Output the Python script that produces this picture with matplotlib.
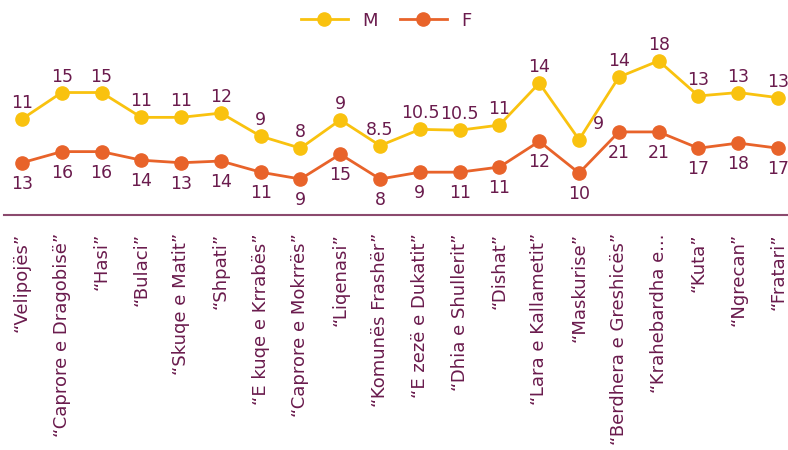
import matplotlib.pyplot as plt
import numpy as np

plt.rcParams['font.family'] = ['DejaVu Sans']

names = ['“Velipojës”', '“Caprore e Dragobisë”', '“Hasi”', '“Bulaci”', '“Skuqe e Matit”',
         '“Shpati”', '“E kuqe e Krrabës”', '“Caprore e Mokrrës”', '“Liqenasi”',
         '“Komunës Frashër”', '“E zezë e Dukatit”', '“Dhia e Shullerit”', '“Dishat”',
         '“Lara e Kallametit”', '“Maskurise”', '“Berdhera e Greshicës”', '“Krahebardha e...',
         '“Kuta”', '“Ngrecan”', '“Fratari”']

# labels printed on the chart
m_labels = ['11', '15', '15', '11', '11', '12', '9', '8', '9', '8.5',
            '10.5', '10.5', '11', '14', '9', '14', '18', '13', '13', '13']
f_labels = ['13', '16', '16', '14', '13', '14', '11', '9', '15', '8',
            '9', '11', '11', '12', '10', '21', '21', '17', '18', '17']

# plotted heights
m_vals = [11.2, 14.3, 14.3, 11.4, 11.4, 11.9, 9.2, 7.8, 11.1, 8.1,
          10.0, 9.9, 10.5, 15.4, 8.8, 16.1, 18.0, 13.9, 14.3, 13.7]
f_vals = [6.1, 7.4, 7.4, 6.4, 6.1, 6.3, 5.0, 4.2, 7.1, 4.2,
          5.0, 5.0, 5.6, 8.6, 4.9, 9.7, 9.7, 7.8, 8.4, 7.8]

c_m = '#F9C20F'
c_f = '#E8632A'
c_txt = '#6A1B4D'

fig = plt.figure(figsize=(7.88, 4.5), dpi=100)
ax = fig.add_axes([4 / 788, (450 - 215) / 450, 784 / 788, 185 / 450])

x = np.arange(len(names))
ax.plot(x, m_vals, color=c_m, lw=2, marker='o', ms=9.5, label='M')
ax.plot(x, f_vals, color=c_f, lw=2, marker='o', ms=9.5, label='F')

for i in x:
    if i == 14:
        ax.annotate(m_labels[i], (i, m_vals[i]), xytext=(19, 16), textcoords='offset pixels',
                    ha='center', va='center', fontsize=12.5, color=c_txt)
    else:
        ax.annotate(m_labels[i], (i, m_vals[i]), xytext=(0, 16), textcoords='offset pixels',
                    ha='center', va='center', fontsize=12.5, color=c_txt)
    ax.annotate(f_labels[i], (i, f_vals[i]), xytext=(0, -21), textcoords='offset pixels',
                ha='center', va='center', fontsize=12.5, color=c_txt)

ax.set_xlim(-0.45, 19.25)
ax.set_ylim(0, 21.6)
ax.set_xticks(x)
ax.set_xticklabels(names, rotation=90, fontsize=13, color=c_txt)
ax.tick_params(axis='x', length=0, pad=13)
ax.set_yticks([])
for s in ['top', 'right', 'left']:
    ax.spines[s].set_visible(False)
ax.spines['bottom'].set_color('#8B4A6E')
ax.spines['bottom'].set_linewidth(1.5)

leg = fig.legend(loc='upper center', bbox_to_anchor=(0.49, 1.01), ncol=2, frameon=False,
                 fontsize=13, handlelength=2.6, columnspacing=1.2)
for t in leg.get_texts():
    t.set_color(c_txt)

plt.savefig('out.png', dpi=100)
